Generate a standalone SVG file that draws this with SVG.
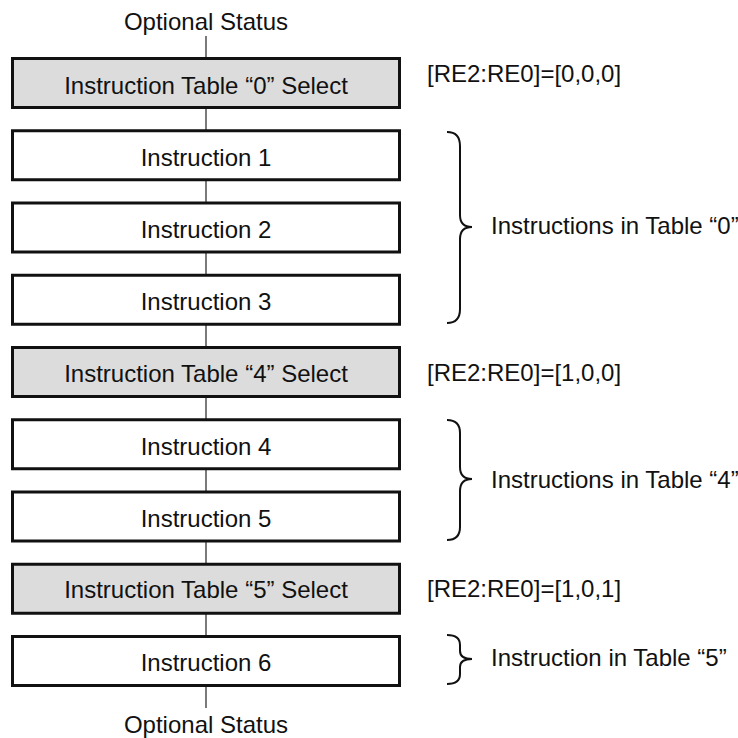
<svg xmlns="http://www.w3.org/2000/svg" width="738" height="738" viewBox="0 0 738 738">
<style>
text{font-family:"Liberation Sans",Arial,sans-serif;font-size:24px;fill:#111}
.c{text-anchor:middle}
.box rect{stroke:#111;stroke-width:3}
.sel rect{fill:#dcdcdc}
.ins rect{fill:#fff}
.conn line{stroke:#333;stroke-width:1.3}
.brace{fill:none;stroke:#111;stroke-width:2}
</style>
<rect width="738" height="738" fill="#fff"/>
<g id="connectors" class="conn">
<line x1="206" y1="36" x2="206" y2="58"/>
<line x1="206" y1="108" x2="206" y2="131"/>
<line x1="206" y1="180" x2="206" y2="203"/>
<line x1="206" y1="252" x2="206" y2="275"/>
<line x1="206" y1="324" x2="206" y2="347"/>
<line x1="206" y1="397" x2="206" y2="419"/>
<line x1="206" y1="469" x2="206" y2="491"/>
<line x1="206" y1="541" x2="206" y2="564"/>
<line x1="206" y1="613" x2="206" y2="636"/>
<line x1="206" y1="685" x2="206" y2="708"/>
</g>
<text id="status-top" class="c" x="206" y="30">Optional Status</text>
<g id="table0" class="box sel"><rect x="12.5" y="58.5" width="387" height="49"/><text class="c" x="206" y="93.5">Instruction Table “0” Select</text></g>
<g id="instr1" class="box ins"><rect x="12.5" y="130.75" width="387" height="49"/><text class="c" x="206" y="165.5">Instruction 1</text></g>
<g id="instr2" class="box ins"><rect x="12.5" y="203" width="387" height="49"/><text class="c" x="206" y="238">Instruction 2</text></g>
<g id="instr3" class="box ins"><rect x="12.5" y="275.25" width="387" height="49"/><text class="c" x="206" y="310">Instruction 3</text></g>
<g id="table4" class="box sel"><rect x="12.5" y="347.5" width="387" height="49"/><text class="c" x="206" y="381.5">Instruction Table “4” Select</text></g>
<g id="instr4" class="box ins"><rect x="12.5" y="419.75" width="387" height="49"/><text class="c" x="206" y="454.5">Instruction 4</text></g>
<g id="instr5" class="box ins"><rect x="12.5" y="492" width="387" height="49"/><text class="c" x="206" y="526.5">Instruction 5</text></g>
<g id="table5" class="box sel"><rect x="12.5" y="564.25" width="387" height="49"/><text class="c" x="206" y="597.5">Instruction Table “5” Select</text></g>
<g id="instr6" class="box ins"><rect x="12.5" y="636.5" width="387" height="49"/><text class="c" x="206" y="670.5">Instruction 6</text></g>
<text id="status-bottom" class="c" x="206" y="733">Optional Status</text>
<g id="label-table0"><text x="427" y="82">[RE2:RE0]=[0,0,0]</text></g>
<g id="label-table4"><text x="427" y="381">[RE2:RE0]=[1,0,0]</text></g>
<g id="label-table5"><text x="427" y="597">[RE2:RE0]=[1,0,1]</text></g>
<g id="group-table0">
<path class="brace" d="M447 132 Q460 132 460 146 L460 215 Q460 227 472 227 Q460 227 460 239 L460 309 Q460 323 447 323"/>
<text x="491" y="234">Instructions in Table “0”</text>
</g>
<g id="group-table4">
<path class="brace" d="M447 420 Q460 420 460 433 L460 467 Q460 479 472 479 Q460 479 460 491 L460 527 Q460 540 447 540"/>
<text x="491" y="488">Instructions in Table “4”</text>
</g>
<g id="group-table5">
<path class="brace" d="M447 635 Q460 635 460 645 L460 651 Q460 659 472 659 Q460 659 460 667 L460 674 Q460 684 447 684"/>
<text x="491" y="666">Instruction in Table “5”</text>
</g>
</svg>
